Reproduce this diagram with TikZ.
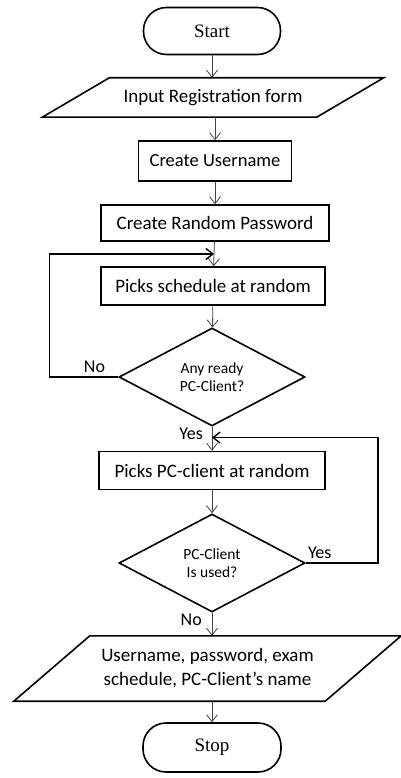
\documentclass[tikz,border=0pt]{standalone}
\usepackage{fontspec}
\setmainfont{Carlito}
\newfontfamily\termfont{Liberation Serif}
\usepackage{tikz}
\usetikzlibrary{shapes.geometric, arrows.meta, calc}
\tikzstyle{Term}=[rectangle, rounded corners=23pt, minimum width=137pt, minimum height=47pt, draw=black, line width=1.6pt, font=\termfont\fontsize{19}{22}\selectfont]
\tikzstyle{Box}=[rectangle, minimum height=38pt, inner xsep=6pt, draw=black, line width=1.6pt, font=\fontsize{19}{24}\selectfont]
\tikzstyle{Data}=[rectangle, inner sep=0pt, font=\fontsize{19}{24}\selectfont, align=center]
\tikzstyle{Outline}=[draw=black, line width=1.6pt, line join=miter]
\tikzstyle{Decision}=[diamond, inner sep=0pt, minimum width=186pt, minimum height=98pt, draw=black, line width=1.6pt, font=\fontsize{15.5}{18.5}\selectfont, align=center]
\tikzstyle{Flow}=[-{Straight Barb[length=7pt, width=11pt]}, line width=0.8pt, black!75]
\tikzstyle{Label}=[inner sep=1pt, font=\fontsize{18}{20}\selectfont]

\begin{document}
\begin{tikzpicture}[x=1pt, y=-1pt]
    \useasboundingbox (0,0) rectangle (401,778);
    \path
    (212,31) node[Term] (start) {Start}
    (213,97.5) node[Data, minimum width=274pt, minimum height=39pt] (input) {Input Registration form}
    (215,161) node[Box, minimum width=153pt, minimum height=40pt, font=\fontsize{18.5}{22}\selectfont] (user) {Create Username}
    (215,223) node[Box, minimum width=228pt, minimum height=36pt] (pass) {Create Random Password}
    (213,286) node[Box, minimum width=224pt] (sched) {Picks schedule at random}
    (212,377) node[Decision] (ready) {Any ready\\PC-Client?}
    (212,470.5) node[Box, minimum width=226pt] (pcpick) {Picks PC-client at random}
    (212,563) node[Decision] (used) {PC-Client\\Is used?}
    (207.5,668.5) node[Data, minimum width=311pt, minimum height=65pt] (out) {Username, password, exam\\schedule, PC-Client's name}
    (212,747.5) node[Term, minimum width=138pt, minimum height=49pt] (stop) {Stop};

    % slanted input / output boxes
    \draw[Outline] ([xshift=-33.5pt]input.south west) -- ([xshift=-33.5pt]input.south east)
        -- ([xshift=33.5pt]input.north east) -- ([xshift=33.5pt]input.north west) -- cycle;
    \draw[Outline] ([xshift=-38pt]out.south west) -- ([xshift=-38pt]out.south east)
        -- ([xshift=38pt]out.north east) -- ([xshift=38pt]out.north west) -- cycle;

    \coordinate (j1) at ($(pass.south)!0.5!(sched.north)$);
    \coordinate (j2) at ($(ready.south)!0.45!(pcpick.north)$);

    \draw[Flow] (start) -- (start |- input.north);
    \draw[Flow] (input.south -| user) -- (user);
    \draw[Flow] (user) -- (pass);
    \draw[Flow] (pass) -- (sched);
    \draw[Flow] (sched) -- (ready);
    \draw[Flow] (ready) -- (pcpick);
    \draw[Flow] (pcpick) -- (used);
    \draw[Flow] (used) -- (used |- out.north);
    \draw[Flow] (out.south -| stop) -- (stop);

    % loops back
    \draw[Flow, black, line width=1.4pt] (ready.west) -- ++(-69,0) |- (j1);
    \draw[Flow, black, line width=1.4pt] (used.east) -- ++(72,0) |- (j2);

    \path (ready.west) node[Label, anchor=south east, xshift=-12pt, yshift=3pt] (no1) {No}
    (ready.south) node[Label, anchor=north east, xshift=-8pt] (yes1) {Yes}
    (used.east) node[Label, anchor=south west, xshift=1pt, yshift=3pt] (yes2) {Yes}
    (used.south) node[Label, anchor=north east, xshift=-9pt] (no2) {No};
\end{tikzpicture}
\end{document}
